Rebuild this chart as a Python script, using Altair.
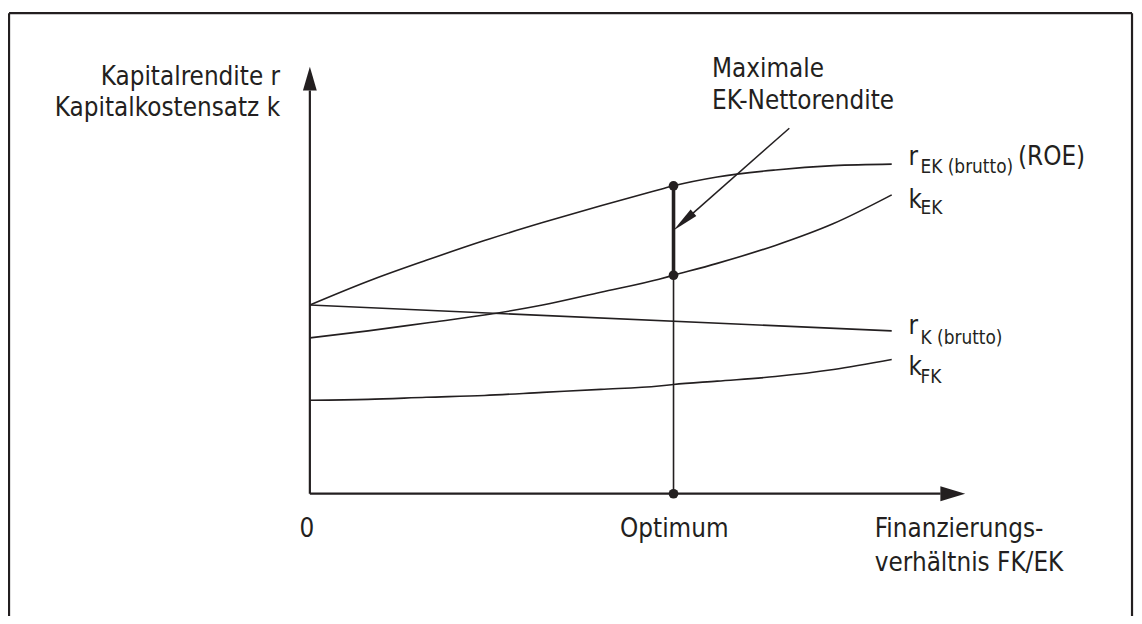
import altair as alt
import pandas as pd

# ---------------- data (relative units) ----------------
x_grid = [0, 1, 2, 3, 4, 5, 6, 6.25, 7, 8, 9, 10]
roe = [10.0, 11.26, 12.37, 13.42, 14.37, 15.26, 16.11, 16.32, 16.79, 17.16, 17.39, 17.47]
k_ek = [8.26, 8.63, 9.05, 9.47, 10.0, 10.68, 11.37, 11.58, 12.21, 13.16, 14.32, 15.84]
k_fk = [4.95, 5.0, 5.11, 5.21, 5.37, 5.53, 5.71, 5.79, 5.97, 6.21, 6.58, 7.11]
rk_x = [0, 10]
rk_y = [10.0, 8.63]
optimum = 6.25
opt_roe = 16.32
opt_kek = 11.58

# axes extents
y_axis_top = 21.37
y_arrow_pos = 22.0
x_axis_end = 10.84
x_arrow_pos = 11.05

# annotation arrow (start, head)
ann_start = (8.24, 19.37)
ann_head = (6.42, 14.42)
ann_angle = 228.6

# frame
frame_left, frame_right, frame_top, frame_bottom = -5.17, 14.13, 25.47, -7.0

X_DOM = [-5.188, 14.164]
Y_DOM = [-6.368, 25.632]

FONT = "DejaVu Sans Condensed, Liberation Sans Narrow, sans-serif"
INK = "#231f20"
MAIN_FS = 26
SUB_FS = 19

# text labels: (x, y, text, size)
left_texts = [
    (6.911, 22.105, "Maximale", MAIN_FS),
    (6.911, 20.368, "EK-Nettorendite", MAIN_FS),
    (9.71, -2.32, "Finanzierungs-", MAIN_FS),
    (9.71, -4.1, "verhältnis FK/EK", MAIN_FS),
    (10.29, 17.421, "r", MAIN_FS),
    (10.495, 17.0, "EK (brutto)", SUB_FS),
    (12.17, 17.421, "(ROE)", MAIN_FS),
    (10.29, 15.158, "k", MAIN_FS),
    (10.495, 14.842, "EK", SUB_FS),
    (10.29, 8.474, "r", MAIN_FS),
    (10.495, 7.947, "K (brutto)", SUB_FS),
    (10.29, 6.316, "k", MAIN_FS),
    (10.495, 5.895, "FK", SUB_FS),
]
right_texts = [
    (-0.512, 21.684, "Kapitalrendite r", MAIN_FS),
    (-0.512, 20.0, "Kapitalkostensatz k", MAIN_FS),
]
center_texts = [
    (-0.051, -2.32, "0", MAIN_FS),
    (6.263, -2.32, "Optimum", MAIN_FS),
]

# ---------------- build tables ----------------
rows = []
for name, ys in [("roe", roe), ("k_ek", k_ek), ("k_fk", k_fk)]:
    for i, (xv, yv) in enumerate(zip(x_grid, ys)):
        rows.append({"series": name, "x": xv, "y": yv, "o": i})
for i, (xv, yv) in enumerate(zip(rk_x, rk_y)):
    rows.append({"series": "r_k", "x": xv, "y": yv, "o": i})
curves = pd.DataFrame(rows)

xs = alt.Scale(domain=X_DOM, nice=False, zero=False)
ys_ = alt.Scale(domain=Y_DOM, nice=False, zero=False)
X = lambda f="x": alt.X(f"{f}:Q", scale=xs, axis=None)
Y = lambda f="y": alt.Y(f"{f}:Q", scale=ys_, axis=None)

base = alt.Chart(curves)

curve_layer = base.mark_line(color=INK, strokeWidth=1.6, interpolate="monotone").encode(
    x=X(), y=Y(), detail="series:N", order="o:Q"
)

segs = pd.DataFrame([
    # axes
    {"x": 0, "y": 0, "x2": 0, "y2": y_axis_top, "w": 2.2},
    {"x": 0, "y": 0, "x2": x_axis_end, "y2": 0, "w": 2.2},
    # optimum vertical (thin) and net-return segment (thick)
    {"x": optimum, "y": 0, "x2": optimum, "y2": opt_roe, "w": 1.6},
    {"x": optimum, "y": opt_kek, "x2": optimum, "y2": opt_roe, "w": 3.6},
    # annotation arrow shaft
    {"x": ann_start[0], "y": ann_start[1], "x2": ann_head[0], "y2": ann_head[1], "w": 1.5},
    # frame
    {"x": frame_left, "y": frame_bottom, "x2": frame_left, "y2": frame_top, "w": 2.2},
    {"x": frame_left, "y": frame_top, "x2": frame_right, "y2": frame_top, "w": 2.2},
    {"x": frame_right, "y": frame_bottom, "x2": frame_right, "y2": frame_top, "w": 2.2},
])
seg_layer = alt.Chart(segs).mark_rule(color=INK).encode(
    x=X(), y=Y(), x2="x2:Q", y2="y2:Q",
    strokeWidth=alt.StrokeWidth("w:Q", scale=None),
)

dots = pd.DataFrame({"x": [optimum, optimum, optimum], "y": [opt_roe, opt_kek, 0]})
dot_layer = alt.Chart(dots).mark_circle(color=INK, opacity=1, size=95).encode(x=X(), y=Y())

def arrow(xv, yv, shape, size, angle=0):
    return alt.Chart(pd.DataFrame({"x": [xv], "y": [yv]})).mark_point(
        shape=shape, size=size, filled=True, color=INK, opacity=1, angle=angle, strokeWidth=0
    ).encode(x=X(), y=Y())

y_arrow = arrow(0, y_arrow_pos, "M0,-1L0.58,1L-0.58,1Z", 576)
x_arrow = arrow(x_arrow_pos, 0, "M1,0L-1,-0.6L-1,0.6Z", 625)
ann_arrow = arrow(ann_head[0], ann_head[1], "M0,-1L0.32,1L-0.32,1Z", 729, ann_angle)

def text_layer(items, align):
    df = pd.DataFrame(items, columns=["x", "y", "text", "fs"])
    return alt.Chart(df).mark_text(
        align=align, baseline="alphabetic", font=FONT, color=INK
    ).encode(x=X(), y=Y(), text="text:N", size=alt.Size("fs:Q", scale=None))

chart = alt.layer(
    curve_layer, seg_layer, dot_layer, y_arrow, x_arrow, ann_arrow,
    text_layer(left_texts, "left"),
    text_layer(right_texts, "right"),
    text_layer(center_texts, "center"),
).properties(
    width=1134, height=608, padding=0, autosize="none", background="white"
).configure_view(stroke=None)

chart.save("out.html", embed_options={"renderer": "svg", "actions": False})
